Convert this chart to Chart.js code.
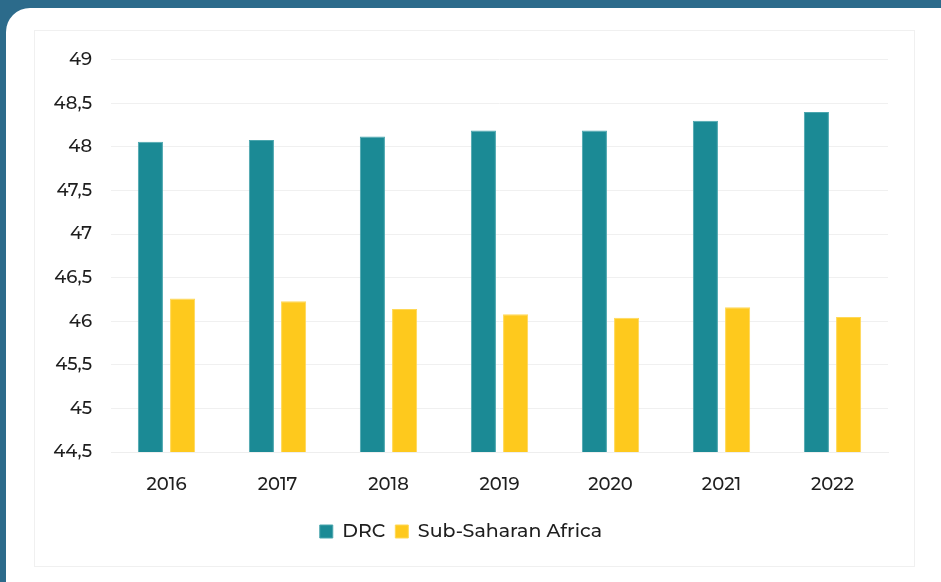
<!DOCTYPE html>
<html>
<head>
<meta charset="utf-8">
<script src="https://cdn.jsdelivr.net/npm/chart.js@4/dist/chart.umd.min.js"></script>
<style>
  html, body { margin: 0; padding: 0; }
  body { width: 941px; height: 582px; background: #2c6b8b; overflow: hidden; position: relative; }
  .card { position: absolute; left: 6px; top: 8px; width: 960px; height: 600px; background: #fff; border-radius: 24px; }
  .frame { position: absolute; left: 34px; top: 30px; width: 879px; height: 535px; border: 1px solid #f0f0f0; background: #fff; }
  .frame canvas { position: absolute; left: -1px; top: -1px; }
</style>
</head>
<body>
<div class="card"></div>
<div class="frame"><canvas id="chart" width="881" height="537"></canvas></div>
<script>
const years = ['2016', '2017', '2018', '2019', '2020', '2021', '2022'];
const drc = [48.06, 48.08, 48.12, 48.19, 48.19, 48.30, 48.40];
const subSaharanAfrica = [46.26, 46.23, 46.14, 46.08, 46.04, 46.16, 46.05];

const FONT = 'Montserrat, "Open Sans", "Noto Sans", sans-serif';
const textFont = { family: FONT, size: 18, weight: 500 };

new Chart(document.getElementById('chart'), {
  type: 'bar',
  data: {
    labels: years,
    datasets: [
      { label: 'DRC', data: drc, backgroundColor: '#1b8a95', borderColor: '#4aa6ae', borderWidth: 1 },
      { label: 'Sub-Saharan Africa', data: subSaharanAfrica, backgroundColor: '#fec91d', borderColor: '#ffd856', borderWidth: 1 }
    ]
  },
  options: {
    responsive: false,
    animation: false,
    devicePixelRatio: 1,
    categoryPercentage: 0.58,
    barPercentage: 0.78,
    layout: { padding: { top: 25, right: 27, left: 0, bottom: 16 } },
    plugins: {
      tooltip: { enabled: false },
      legend: {
        position: 'bottom',
        labels: {
          font: { family: FONT, size: 19, weight: 500 },
          color: '#1e1e1e',
          boxWidth: 13,
          boxHeight: 13,
          padding: 10
        }
      }
    },
    scales: {
      x: {
        grid: { display: false, drawTicks: false },
        border: { color: '#eeeeee' },
        ticks: { font: textFont, color: '#1e1e1e', padding: 22 },
        afterFit: s => { s.height = 60; }
      },
      y: {
        min: 44.5,
        max: 49,
        grid: { color: '#f0f0f0', drawTicks: false },
        border: { display: false },
        ticks: {
          stepSize: 0.5,
          padding: 19,
          font: textFont,
          color: '#1e1e1e',
          callback: v => String(v).replace('.', ',')
        },
        afterFit: s => { s.width = 77; }
      }
    }
  }
});
</script>
</body>
</html>
